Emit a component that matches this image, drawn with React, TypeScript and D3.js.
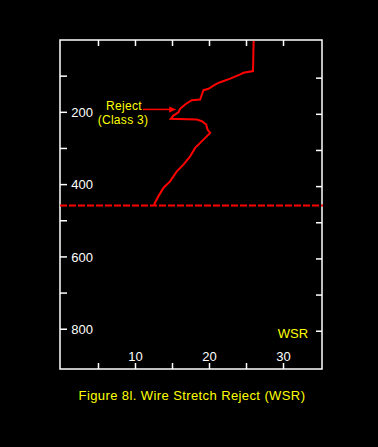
import React from "react";
import * as d3 from "d3";

const W = 378;
const H = 447;

// WSR profile: [WSR value, depth]
const wsrValues = [25.96, 25.88, 25.88, 24.6, 24.16, 22.8, 21.45, 20.8, 19.86, 19.19, 18.97, 18.74, 17.6, 16.7, 16.03, 15.8, 15.12, 14.77, 18.29, 18.97, 19.55, 19.73, 20.09, 19.42, 18.74, 18.06, 17.38, 16.48, 15.58, 14.67, 13.77, 13.09, 12.5];
const depthValues = [3, 81.5, 86, 90.6, 95.3, 107, 116.7, 123, 135, 138.8, 150.7, 164.6, 166.5, 178.4, 190.4, 199.8, 209, 218, 220, 224.7, 233.9, 247.7, 256.9, 270.7, 284.6, 298.4, 321.7, 344.7, 363.3, 391, 409.3, 432.5, 455.5];

const rejectDepth = 457.5;
const xTicks = [5, 10, 15, 20, 25, 30];
const xTickLabels = [10, 20, 30];
const yTicks = [100, 200, 300, 400, 500, 600, 700, 800];
const yTickLabels = [200, 400, 600, 800];

const arrowDepth = 192;
const arrowFromX = 11.0;
const arrowToX = 15.5;

export default function App() {
  const left = 60, right = 322, top = 40, bottom = 369;
  const x = d3.scaleLinear().domain([-0.2, 35.2]).range([left, right]);
  const y = d3.scaleLinear().domain([0, 910]).range([top, bottom]);

  const pts: [number, number][] = wsrValues.map((v, i) => [v, depthValues[i]]);
  const line = d3.line<[number, number]>().x((d) => x(d[0])).y((d) => y(d[1]));

  const font = "'Liberation Sans', Arial, sans-serif";
  const ax = x(arrowToX);
  const ay = y(arrowDepth);

  return (
    <svg width={W} height={H} style={{ position: "absolute", left: 0, top: 0, background: "#000" }}>
      <rect x={0} y={0} width={W} height={H} fill="#000" />
      <rect x={left} y={top} width={right - left} height={bottom - top} fill="none" stroke="#fff" strokeWidth={1.5} />
      {xTicks.map((t) => (
        <g key={"xt" + t}>
          <line x1={x(t)} x2={x(t)} y1={bottom} y2={bottom - 6} stroke="#fff" strokeWidth={1.5} />
          <line x1={x(t)} x2={x(t)} y1={top} y2={top + 6} stroke="#fff" strokeWidth={1.5} />
        </g>
      ))}
      {yTicks.map((t) => (
        <g key={"yt" + t}>
          <line x1={left} x2={left + 7} y1={y(t)} y2={y(t)} stroke="#fff" strokeWidth={1.5} />
          <line x1={right} x2={right - 6} y1={y(t) + 2} y2={y(t) + 2} stroke="#fff" strokeWidth={1.5} />
        </g>
      ))}
      {yTickLabels.map((t) => (
        <text key={"yl" + t} x={93} y={y(t)} dy="0.36em" textAnchor="end" fill="#fff" fontFamily={font} fontSize={13}>
          {t}
        </text>
      ))}
      {xTickLabels.map((t) => (
        <text key={"xl" + t} x={x(t)} y={361} textAnchor="middle" fill="#fff" fontFamily={font} fontSize={13}>
          {t}
        </text>
      ))}
      <line x1={left} x2={right + 1} y1={y(rejectDepth)} y2={y(rejectDepth)} stroke="#f00" strokeWidth={2} strokeDasharray="7,2" />
      <path d={line(pts) || ""} fill="none" stroke="#f00" strokeWidth={2} />
      <line x1={x(arrowFromX)} x2={ax - 5} y1={ay} y2={ay} stroke="#f00" strokeWidth={1.5} />
      <path d={`M${ax},${ay} L${ax - 7},${ay - 3} L${ax - 7},${ay + 3} Z`} fill="#f00" />
      <text x={124} y={110} textAnchor="middle" fill="#ff0" fontFamily={font} fontSize={12} letterSpacing={0.3}>Reject</text>
      <text x={123} y={124} textAnchor="middle" fill="#ff0" fontFamily={font} fontSize={12} letterSpacing={0.3}>(Class 3)</text>
      <text x={293} y={337.5} textAnchor="middle" fill="#ff0" fontFamily={font} fontSize={13}>WSR</text>
      <text x={192} y={400} textAnchor="middle" fill="#ff0" fontFamily={font} fontSize={13} letterSpacing={0.4}>Figure 8l. Wire Stretch Reject (WSR)</text>
    </svg>
  );
}
